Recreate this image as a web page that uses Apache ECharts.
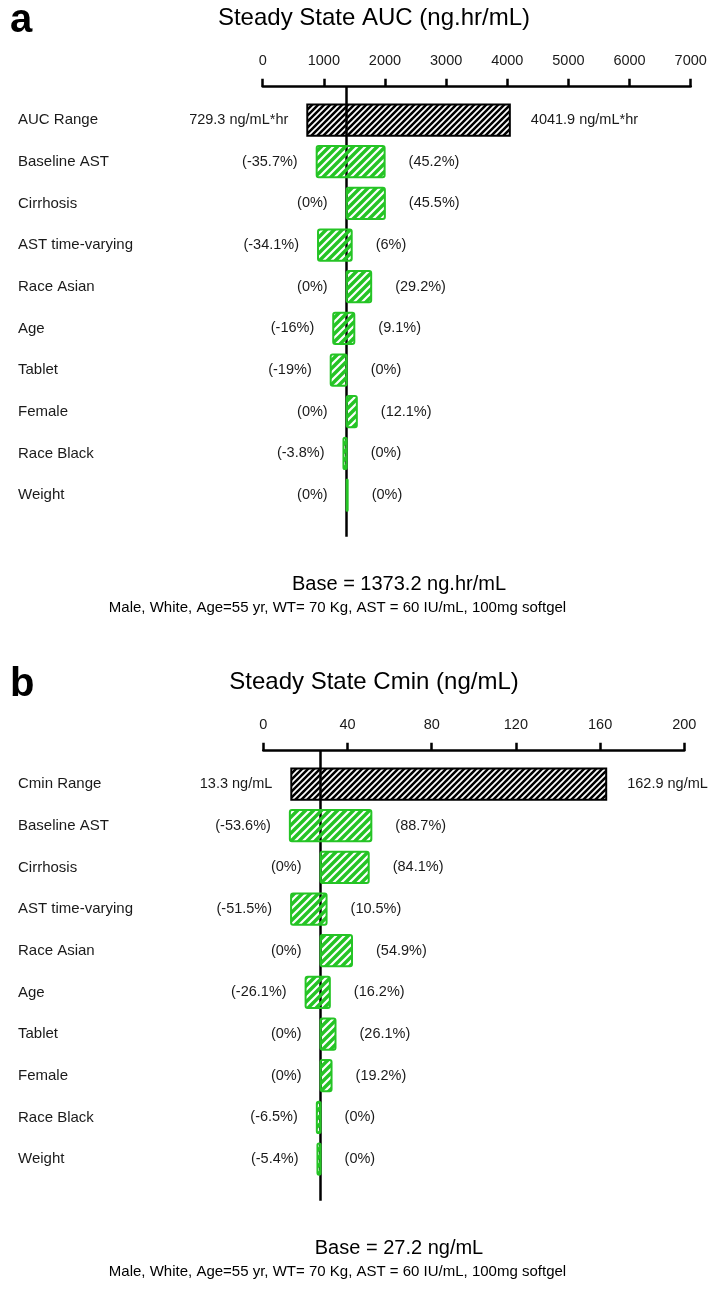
<!DOCTYPE html>
<html>
<head>
<meta charset="utf-8">
<script src="https://cdn.jsdelivr.net/npm/echarts@6/dist/echarts.min.js"></script>
<style>
  html, body { margin: 0; padding: 0; background: #fff; }
  #main { width: 718px; height: 1290px; }
</style>
</head>
<body>
<div id="main"></div>
<script>
// panel a : steady state AUC
var aCats = ['AUC Range', 'Baseline AST', 'Cirrhosis', 'AST time-varying', 'Race Asian', 'Age', 'Tablet', 'Female', 'Race Black', 'Weight'];
var aBase = 1373.2;
var aRange = [729.3, 4041.9];
var aLowPct = [-35.7, 0, -34.1, 0, -16, -19, 0, -3.8, 0];
var aHighPct = [45.2, 45.5, 6, 29.2, 9.1, 0, 12.1, 0, 0];
var aAxis = { min: 0, max: 7000, interval: 1000 };

// panel b : steady state Cmin
var bCats = ['Cmin Range', 'Baseline AST', 'Cirrhosis', 'AST time-varying', 'Race Asian', 'Age', 'Tablet', 'Female', 'Race Black', 'Weight'];
var bBase = 27.2;
var bRange = [13.3, 162.9];
var bLowPct = [-53.6, 0, -51.5, 0, -26.1, 0, 0, -6.5, -5.4];
var bHighPct = [88.7, 84.1, 10.5, 54.9, 16.2, 26.1, 19.2, 0, 0];
var bAxis = { min: 0, max: 200, interval: 40 };

var FONT = 'Liberation Sans, Arial, sans-serif';
var GREEN = '#25c425';

// hatch fill: solid colour with transparent "////" stripes
function hatch(color, size, gap) {
    var c = document.createElement('canvas');
    c.width = size; c.height = size;
    var ctx = c.getContext('2d');
    ctx.fillStyle = color;
    ctx.fillRect(0, 0, size, size);
    ctx.globalCompositeOperation = 'destination-out';
    ctx.strokeStyle = '#000';
    ctx.lineWidth = gap;
    ctx.beginPath();
    ctx.moveTo(-2, 2); ctx.lineTo(2, -2);
    ctx.moveTo(0, size); ctx.lineTo(size, 0);
    ctx.moveTo(size - 2, size + 2); ctx.lineTo(size + 2, size - 2);
    ctx.stroke();
    return { image: c, repeat: 'repeat' };
}
var blackHatch = hatch('#000', 6, 1.7);
var greenHatch = hatch(GREEN, 8, 2.2);

function buildRows(base, range, lowPct, highPct, unit) {
    var rows = [[range[0], range[1], 0]];
    var texts = [[range[0] + unit, range[1] + unit]];
    for (var i = 0; i < lowPct.length; i++) {
        rows.push([base * (1 + lowPct[i] / 100), base * (1 + highPct[i] / 100), i + 1]);
        texts.push(['(' + lowPct[i] + '%)', '(' + highPct[i] + '%)']);
    }
    return { rows: rows, texts: texts };
}

function makeRender(texts) {
    return function (params, api) {
        var lo = api.value(0), hi = api.value(1), row = api.value(2);
        var p0 = api.coord([lo, row]);
        var p1 = api.coord([hi, row]);
        var h = api.size([0, 0.75])[1];
        var w = Math.max(p1[0] - p0[0], 1);
        var isRange = row === 0;
        var t = texts[params.dataIndex];
        return {
            type: 'group',
            children: [{
                type: 'rect',
                shape: { x: p0[0], y: p0[1] - h / 2, width: w, height: h, r: isRange ? 0 : 2 },
                style: {
                    fill: isRange ? blackHatch : greenHatch,
                    stroke: isRange ? '#000' : GREEN,
                    lineWidth: 2
                }
            }, {
                type: 'text',
                x: p0[0] - 19,
                y: p0[1],
                style: { text: t[0], fill: '#1a1a1a', fontSize: 14.5, fontFamily: FONT, align: 'right', verticalAlign: 'middle' }
            }, {
                type: 'text',
                x: p0[0] + w + (isRange ? 21 : 24),
                y: p0[1],
                style: { text: t[1], fill: '#1a1a1a', fontSize: 14.5, fontFamily: FONT, align: 'left', verticalAlign: 'middle' }
            }]
        };
    };
}

var aData = buildRows(aBase, aRange, aLowPct, aHighPct, ' ng/mL*hr');
var bData = buildRows(bBase, bRange, bLowPct, bHighPct, ' ng/mL');

function xAxisOf(idx, ax) {
    return {
        gridIndex: idx,
        type: 'value',
        position: 'top',
        min: ax.min, max: ax.max, interval: ax.interval,
        axisLine: { onZero: false, lineStyle: { color: '#000', width: 2.5 } },
        axisTick: { length: 8, lineStyle: { color: '#000', width: 2.5 } },
        axisLabel: {
            color: '#1a1a1a', fontSize: 14.5, fontFamily: FONT, margin: 18,
            formatter: function (v) { return String(v); }
        },
        splitLine: { show: false }
    };
}

function yAxisOf(idx, cats, margin) {
    return {
        gridIndex: idx,
        type: 'value',
        inverse: true,
        min: -0.8, max: 10,
        axisLine: { show: false },
        axisTick: { show: false },
        splitLine: { show: false },
        axisLabel: {
            customValues: [0, 1, 2, 3, 4, 5, 6, 7, 8, 9],
            formatter: function (v) { return cats[Math.round(v)]; },
            align: 'left',
            margin: margin,
            color: '#1a1a1a', fontSize: 15, fontFamily: FONT
        }
    };
}

function baseLine(idx, base) {
    return {
        type: 'line',
        xAxisIndex: idx, yAxisIndex: idx,
        data: [],
        z: 1,
        markLine: {
            silent: true, symbol: 'none', z: 1,
            label: { show: false },
            lineStyle: { color: '#000', width: 2.5, type: 'solid' },
            data: [{ xAxis: base }]
        }
    };
}

var chart = echarts.init(document.getElementById('main'));
chart.setOption({
    backgroundColor: '#fff',
    animation: false,
    grid: [
        { left: 262.7, top: 86.7, width: 428, height: 450 },
        { left: 263.3, top: 750.7, width: 421, height: 450 }
    ],
    xAxis: [xAxisOf(0, aAxis), xAxisOf(1, bAxis)],
    yAxis: [yAxisOf(0, aCats, 244.7), yAxisOf(1, bCats, 245.3)],
    series: [
        baseLine(0, aBase),
        {
            type: 'custom', xAxisIndex: 0, yAxisIndex: 0, z: 10,
            renderItem: makeRender(aData.texts),
            data: aData.rows
        },
        baseLine(1, bBase),
        {
            type: 'custom', xAxisIndex: 1, yAxisIndex: 1, z: 10,
            renderItem: makeRender(bData.texts),
            data: bData.rows
        }
    ],
    graphic: [
        { type: 'text', x: 10, y: 21, style: { text: 'a', fontSize: 40, fontWeight: 'bold', fontFamily: FONT, fill: '#000', verticalAlign: 'middle' } },
        { type: 'text', x: 374, y: 18.5, style: { text: 'Steady State AUC (ng.hr/mL)', fontSize: 24, fontFamily: FONT, fill: '#000', align: 'center', verticalAlign: 'middle' } },
        { type: 'text', x: 399, y: 584, style: { text: 'Base = ' + aBase + ' ng.hr/mL', fontSize: 20, fontFamily: FONT, fill: '#000', align: 'center', verticalAlign: 'middle' } },
        { type: 'text', x: 337.5, y: 607.5, style: { text: 'Male, White, Age=55 yr, WT= 70 Kg, AST = 60 IU/mL, 100mg softgel', fontSize: 15, fontFamily: FONT, fill: '#000', align: 'center', verticalAlign: 'middle' } },
        { type: 'text', x: 10, y: 685, style: { text: 'b', fontSize: 40, fontWeight: 'bold', fontFamily: FONT, fill: '#000', verticalAlign: 'middle' } },
        { type: 'text', x: 374, y: 682.5, style: { text: 'Steady State Cmin (ng/mL)', fontSize: 24, fontFamily: FONT, fill: '#000', align: 'center', verticalAlign: 'middle' } },
        { type: 'text', x: 399, y: 1248, style: { text: 'Base = ' + bBase + ' ng/mL', fontSize: 20, fontFamily: FONT, fill: '#000', align: 'center', verticalAlign: 'middle' } },
        { type: 'text', x: 337.5, y: 1271.5, style: { text: 'Male, White, Age=55 yr, WT= 70 Kg, AST = 60 IU/mL, 100mg softgel', fontSize: 15, fontFamily: FONT, fill: '#000', align: 'center', verticalAlign: 'middle' } }
    ]
});
</script>
</body>
</html>
